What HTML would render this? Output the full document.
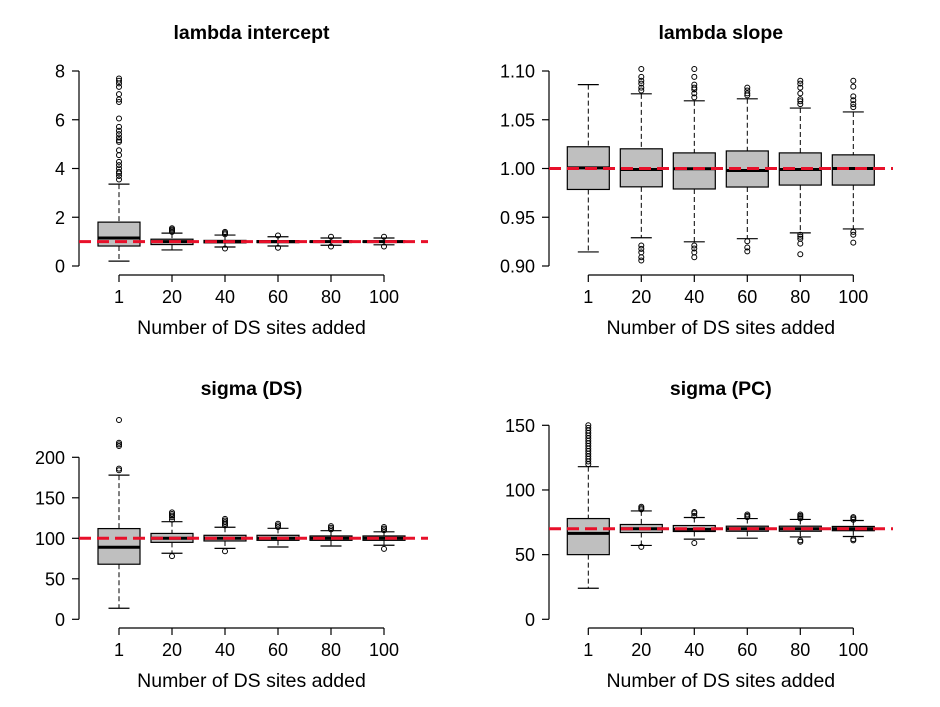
<!DOCTYPE html>
<html><head><meta charset="utf-8"><style>
body{margin:0;background:#fff;}
svg{display:block;font-family:"Liberation Sans",Arial,sans-serif;}
</style></head><body>
<svg id="chart" width="940" height="707" viewBox="0 0 940 707"></svg>
<script>
const categories = ["1","20","40","60","80","100"];
// Panel 1: lambda intercept
const p1Q1 = [0.82,0.88,0.95,0.96,0.97,0.97];
const p1Med = [1.15,1.0,1.0,1.0,1.0,1.0];
const p1Q3 = [1.80,1.10,1.05,1.04,1.03,1.03];
const p1Lo = [0.2,0.66,0.78,0.82,0.85,0.87];
const p1Hi = [3.36,1.35,1.27,1.2,1.15,1.15];
const p1Out = [[7.69,7.6,7.49,7.35,7.05,6.83,6.73,6.05,5.71,5.55,5.41,5.27,5.16,5.09,4.75,4.55,4.27,4.14,4.0,3.86,3.8,3.69,3.55],[1.4,1.45,1.5,1.55],[1.3,1.35,1.4,0.72],[1.25,0.75],[1.2,0.8],[1.2,0.8]];
const p1Ticks = [0,2,4,6,8];
// Panel 2: lambda slope
const p2Q1 = [0.9785,0.9812,0.979,0.981,0.983,0.983];
const p2Med = [1.0007,0.999,0.9997,0.998,0.999,1.0];
const p2Q3 = [1.0223,1.0202,1.016,1.018,1.016,1.014];
const p2Lo = [0.9144,0.929,0.9248,0.928,0.934,0.938];
const p2Hi = [1.086,1.0766,1.0694,1.0715,1.062,1.058];
const p2Out = [[],[1.102,1.094,1.090,1.087,1.083,1.080,0.921,0.9176,0.914,0.909,0.9056],[1.102,1.094,1.086,1.083,1.081,1.077,1.073,0.921,0.918,0.914,0.909],[1.083,1.080,1.077,1.075,0.9254,0.919,0.915],[1.090,1.087,1.083,1.077,1.071,1.069,1.066,0.932,0.930,0.928,0.923,0.912],[1.090,1.084,1.074,1.070,1.066,1.063,0.935,0.932,0.924]];
const p2Ticks = [0.90,0.95,1.00,1.05,1.10];
// Panel 3: sigma (DS)
const p3Q1 = [68,95,96.7,97.5,97.5,97.5];
const p3Med = [89,100,100,100,100,100];
const p3Q3 = [112,106,103.7,103.7,102.9,102.9];
const p3Lo = [13.6,81.5,87.6,89.3,90.5,91.4];
const p3Hi = [178,120.5,113.6,112.3,109.4,108];
const p3Out = [[246,218,216,214,186,184],[123,126,128,130,132,78],[116,118,120,122,124,84],[114,116,118],[111,113,115],[110,112,114,87]];
const p3Ticks = [0,50,100,150,200];
// Panel 4: sigma (PC)
const p4Q1 = [50,67.1,67.9,68.1,68.1,68.5];
const p4Med = [66.4,70,69.5,70,70,70];
const p4Q3 = [77.9,73.3,72.5,72,72,71.8];
const p4Lo = [24,57.1,62,62.7,63.7,64];
const p4Hi = [118,83.8,78.7,77.9,77.2,76.4];
const p4Out = [[150,148,146,144,142,140,138,136,134,132,130,128,126,124,122,120],[85,86,87,56],[80,82,83,59],[79,80,81],[78,79,80,81,61,60],[77,78,79,62,61]];
const p4Ticks = [0,50,100,150];

const refs = [1,1,100,70];
const titles = ["lambda intercept","lambda slope","sigma (DS)","sigma (PC)"];
const tickFmt = [v=>String(v), v=>v.toFixed(2), v=>String(v), v=>String(v)];

const panels = [
 {q1:p1Q1,med:p1Med,q3:p1Q3,lo:p1Lo,hi:p1Hi,out:p1Out,ticks:p1Ticks,ax:79,x0:119,right:428,yTop:71,yBot:266,xAxisY:275,title:32,name:'lambda-intercept'},
 {q1:p2Q1,med:p2Med,q3:p2Q3,lo:p2Lo,hi:p2Hi,out:p2Out,ticks:p2Ticks,ax:549,x0:588.3,right:893,yTop:71,yBot:266,xAxisY:275,title:32,name:'lambda-slope'},
 {q1:p3Q1,med:p3Med,q3:p3Q3,lo:p3Lo,hi:p3Hi,out:p3Out,ticks:p3Ticks,ax:79,x0:119,right:428,yTop:457.3,yBot:619.3,xAxisY:628,title:388,name:'sigma-ds'},
 {q1:p4Q1,med:p4Med,q3:p4Q3,lo:p4Lo,hi:p4Hi,out:p4Out,ticks:p4Ticks,ax:549,x0:588.3,right:893,yTop:425.3,yBot:619.3,xAxisY:628,title:388,name:'sigma-pc'}
];
const NS='http://www.w3.org/2000/svg';
const svg=document.getElementById('chart');
function mk(tag,attrs,parent){const e=document.createElementNS(NS,tag);for(const k in attrs)e.setAttribute(k,attrs[k]);parent.appendChild(e);return e;}
panels.forEach((p,pi)=>{
  const g=mk('g',{},svg);
  
  
  const tmin=p.ticks[0], tmax=p.ticks[p.ticks.length-1];
  const y=v=>p.yBot-(v-tmin)/(tmax-tmin)*(p.yBot-p.yTop);
  const x=i=>p.x0+i*53;
  const t=mk('text',{x:(x(0)+x(5))/2,y:p.title+7,'text-anchor':'middle','font-size':19.5,'font-weight':'bold'},g);
  t.textContent=titles[pi];
  
  
  const ya=mk('line',{x1:p.ax,x2:p.ax,y1:y(tmin),y2:y(tmax),stroke:'#000','stroke-width':1.2},g);
  
  
  p.ticks.forEach(v=>{
    mk('line',{x1:p.ax-7,x2:p.ax,y1:y(v),y2:y(v),stroke:'#000','stroke-width':1.2},g);
    const tl=mk('text',{x:p.ax-14,y:y(v)+6.5,'text-anchor':'end','font-size':18},g);
    tl.textContent=tickFmt[pi](v);
    
    
  });
  const xa=mk('line',{x1:x(0),x2:x(5),y1:p.xAxisY,y2:p.xAxisY,stroke:'#000','stroke-width':1.2},g);
  
  
  categories.forEach((c,i)=>{
    mk('line',{x1:x(i),x2:x(i),y1:p.xAxisY,y2:p.xAxisY+7,stroke:'#000','stroke-width':1.2},g);
    const tl=mk('text',{x:x(i),y:p.xAxisY+28,'text-anchor':'middle','font-size':18},g);
    tl.textContent=c;
    
    
  });
  const xl=mk('text',{x:(x(0)+x(5))/2,y:p.xAxisY+59,'text-anchor':'middle','font-size':19.5},g);
  xl.textContent='Number of DS sites added';
  
  
  categories.forEach((c,i)=>{
    const bg=mk('g',{},g);
    
    
    const X=x(i);
    mk('line',{x1:X,x2:X,y1:y(p.hi[i]),y2:y(p.q3[i]),stroke:'#000','stroke-dasharray':'5 3'},bg);
    mk('line',{x1:X,x2:X,y1:y(p.q1[i]),y2:y(p.lo[i]),stroke:'#000','stroke-dasharray':'5 3'},bg);
    mk('line',{x1:X-10.5,x2:X+10.5,y1:y(p.hi[i]),y2:y(p.hi[i]),stroke:'#000','stroke-width':1.2},bg);
    mk('line',{x1:X-10.5,x2:X+10.5,y1:y(p.lo[i]),y2:y(p.lo[i]),stroke:'#000','stroke-width':1.2},bg);
    mk('rect',{x:X-21,y:y(p.q3[i]),width:42,height:Math.max(1,y(p.q1[i])-y(p.q3[i])),fill:'#bfbfbf',stroke:'#000','stroke-width':1.2},bg);
    mk('line',{x1:X-21,x2:X+21,y1:y(p.med[i]),y2:y(p.med[i]),stroke:'#000','stroke-width':3},bg);
    p.out[i].forEach(v=>{
      const o=mk('circle',{cx:X,cy:y(v),r:2.5,fill:'none',stroke:'#000','stroke-width':1},bg);
      
      
    });
  });
  const rl=mk('line',{x1:p.ax,x2:p.right,y1:y(refs[pi]),y2:y(refs[pi]),stroke:'#e8102a','stroke-width':3,'stroke-dasharray':'12 6'},g);
  
  
});
</script>
</body></html>
